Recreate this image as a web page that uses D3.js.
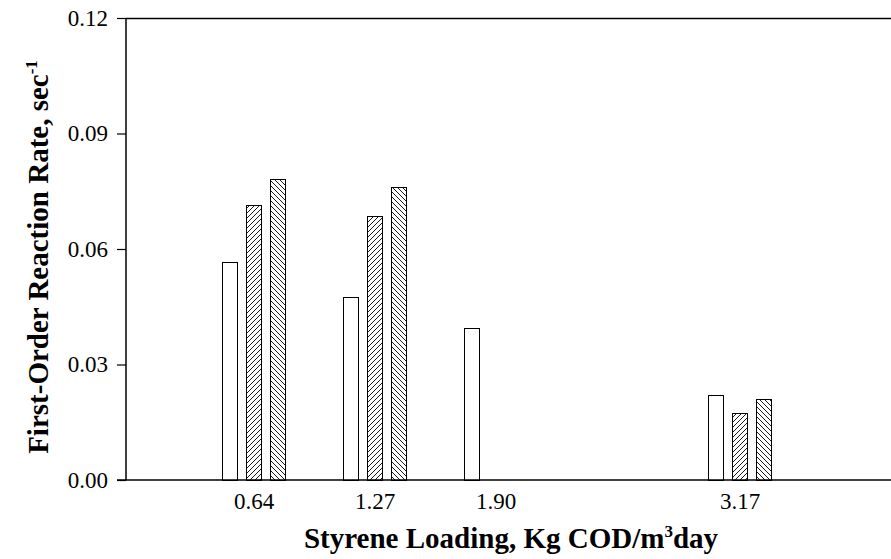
<!DOCTYPE html>
<html><head><meta charset="utf-8">
<script src="https://cdn.jsdelivr.net/npm/d3@7/dist/d3.min.js"></script>
<style>
html,body{margin:0;padding:0;background:#fff;}
svg{display:block;}
text{font-family:"Liberation Serif","Times New Roman",serif;fill:#000;}
</style></head>
<body>
<svg id="chart" width="891" height="559"></svg>
<script>
const loadings = [0.64, 1.27, 1.90, 3.17];
const tickLabels = ["0.64", "1.27", "1.90", "3.17"];
const seriesOpen = [0.0567, 0.0475, 0.0396, 0.0221];
const seriesHatchA = [0.0714, 0.0686, null, 0.0173];
const seriesHatchB = [0.0781, 0.0760, null, 0.0210];
const yTicks = [0, 0.03, 0.06, 0.09, 0.12];
const seriesNames = ["open", "hatchA", "hatchB"];

(function () {
const svg = d3.select("#chart");
const pLeft = 126, pTop = 18, pBottom = 480, pRight = 905;

const x = d3.scaleLinear().domain([0.64, 3.17]).range([253.5, 739.5]);
const y = d3.scaleLinear().domain([0, 0.12]).range([pBottom, pTop]);

const defs = svg.append("defs");
function hatch(id, dir) {
  const s = 5;
  const p = defs.append("pattern").attr("id", id).attr("patternUnits", "userSpaceOnUse")
    .attr("width", s).attr("height", s);
  p.append("rect").attr("width", s).attr("height", s).attr("fill", "#fff");
  const d = dir > 0
    ? `M-1,1 l2,-2 M0,${s} l${s},-${s} M${s-1},${s+1} l2,-2`
    : `M-1,${s-1} l2,2 M0,0 l${s},${s} M${s-1},-1 l2,2`;
  p.append("path").attr("d", d).attr("stroke", "#000").attr("stroke-width", 0.9);
}
hatch("hA", 1);
hatch("hB", -1);

const fills = ["#fff", "url(#hA)", "url(#hB)"];
const allSeries = [seriesOpen, seriesHatchA, seriesHatchB];
const barW = 15, step = 24;

allSeries.forEach((vals, si) => {
  svg.append("g").attr("class", "series-" + seriesNames[si])
    .selectAll("rect").data(loadings.map((c, i) => ({c, v: vals[i]})).filter(d => d.v != null))
    .join("rect")
    .attr("x", d => Math.round(x(d.c) + (si - 1) * step - barW / 2) + 0.5)
    .attr("y", d => Math.round(y(d.v)) + 0.5)
    .attr("width", barW)
    .attr("height", d => Math.round(y(0)) - Math.round(y(d.v)))
    .attr("fill", fills[si])
    .attr("stroke", "#000")
    .attr("stroke-width", 1);
});

// frame
svg.append("line").attr("x1", pLeft).attr("x2", pRight).attr("y1", pTop + 0.5).attr("y2", pTop + 0.5)
  .attr("stroke", "#000").attr("stroke-width", 1.5);
svg.append("line").attr("x1", pLeft - 9).attr("x2", pRight).attr("y1", pBottom).attr("y2", pBottom)
  .attr("stroke", "#000").attr("stroke-width", 1.5);

// y axis
const yAxis = d3.axisLeft(y).tickValues(yTicks).tickFormat(d3.format(".2f")).tickSize(9).tickPadding(9);
const gy = svg.append("g").attr("transform", `translate(${pLeft},0)`).call(yAxis);
gy.select(".domain").attr("stroke", "#000").attr("stroke-width", 1.5).attr("d", `M0,${pTop}V${pBottom}`);
gy.selectAll(".tick line").attr("stroke", "#000").attr("stroke-width", 1.2);
gy.selectAll(".tick text").attr("font-family", "Liberation Serif").attr("font-size", 23).attr("fill", "#000");

// x axis labels
const xAxis = d3.axisBottom(x).tickValues(loadings).tickFormat((d, i) => tickLabels[i]).tickSize(0).tickPadding(13);
const gx = svg.append("g").attr("transform", `translate(0,${pBottom})`).call(xAxis);
gx.select(".domain").remove();
gx.selectAll(".tick text").attr("font-family", "Liberation Serif").attr("font-size", 23).attr("fill", "#000");

// axis titles
const xt = svg.append("text").attr("x", 511).attr("y", 548).attr("text-anchor", "middle")
  .attr("font-size", 29).attr("font-weight", "bold");
xt.append("tspan").text("Styrene Loading, Kg COD/m");
xt.append("tspan").attr("dy", -11).attr("font-size", 17).text("3");
xt.append("tspan").attr("dy", 11).text("day");

const yt = svg.append("text").attr("transform", "translate(48,257) rotate(-90)").attr("text-anchor", "middle")
  .attr("font-size", 29).attr("font-weight", "bold");
yt.append("tspan").text("First-Order Reaction Rate, sec");
yt.append("tspan").attr("dy", -11).attr("font-size", 17).text("-1");
})();
</script>
</body></html>
